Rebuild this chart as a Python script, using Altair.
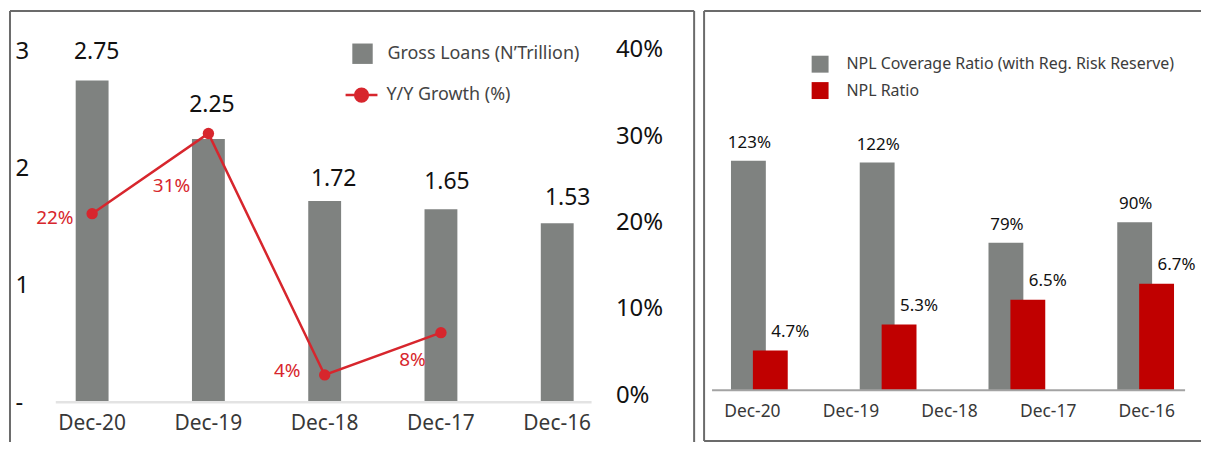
import altair as alt
import pandas as pd

# ---------------- data ----------------
periods = ["Dec-20", "Dec-19", "Dec-18", "Dec-17", "Dec-16"]
gross_loans = [2.75, 2.25, 1.72, 1.65, 1.53]
growth_periods = ["Dec-20", "Dec-19", "Dec-18", "Dec-17"]
growth_plotted = [21.4, 30.5, 3.1, 7.9]        # where the dots sit
growth_labels = ["22%", "31%", "4%", "8%"]     # what the labels say

npl_groups = ["Dec-20", "Dec-19", "Dec-18", "Dec-17"]
coverage_ratio = [123, 122, 79, 90]
npl_ratio = [4.7, 5.3, 6.5, 6.7]
npl_bar_plotted = [21.3, 35.2, 48.5, 57.1]     # red bar heights, in coverage units

LOANS_NAME = "Gross Loans (N\u2019Trillion)"
GROWTH_NAME = "Y/Y Growth (%)"
COV_NAME = "NPL Coverage Ratio (with Reg. Risk Reserve)"
NPL_NAME = "NPL Ratio"

# ---------------- styles ----------------
FONT = "Noto Sans"
GRAY = "#7f8280"
LINE_RED = "#d7262d"
NPL_RED = "#c00000"
FRAME = "#6b6b6b"
W_L, H_L = 687, 433
W_R, H_R = 499, 432

# per-label text offsets (style only)
loan_label_offsets = [(4.5, -22), (3.5, -27.5), (9, -15), (6, -20), (10.5, -18)]
growth_label_offsets = [(-18.7, 4.7), (-18.3, 53), (-24.3, -3.5), (-15.3, 28)]


def frame(sides, w, h):
    """Panel border drawn as rules (decoration in pixel space)."""
    one = pd.DataFrame({"z": [0]})
    parts = []
    for s in sides:
        if s == "left":
            enc = dict(x=alt.value(0), y=alt.value(0), y2=alt.value(h))
        elif s == "right":
            enc = dict(x=alt.value(w), y=alt.value(0), y2=alt.value(h))
        elif s == "top":
            enc = dict(x=alt.value(0), x2=alt.value(w), y=alt.value(0))
        else:
            enc = dict(x=alt.value(0), x2=alt.value(w), y=alt.value(h))
        parts.append(alt.Chart(one).mark_rule(color=FRAME, strokeWidth=2).encode(**enc))
    return parts


# ================= LEFT PANEL =================
loans_df = pd.DataFrame({
    "period": periods,
    "loans": gross_loans,
    "label": [f"{v:.2f}" for v in gross_loans],
    "series": LOANS_NAME,
})
growth_df = pd.DataFrame({
    "period": growth_periods,
    "growth": growth_plotted,
    "label": growth_labels,
    "series": GROWTH_NAME,
})

x_left = alt.X(
    "period:N", sort=periods,
    scale=alt.Scale(domain=periods, range=[24.1, 607.9], paddingInner=0, paddingOuter=0),
    axis=alt.Axis(orient="bottom", offset=-19, domain=False, ticks=False, tickSize=0,
                  labelPadding=0, labelAngle=0, labelFont=FONT, labelFontSize=21,
                  labelColor="#383838", labelBaseline="middle", title=None),
)
y_left = alt.Y(
    "loans:Q",
    scale=alt.Scale(domain=[0, 3], range=[393, 40.5], nice=False),
    axis=alt.Axis(orient="left", offset=-5, values=[0, 1, 2, 3],
                  labelExpr="datum.value == 0 ? '-' : format(datum.value, 'd')",
                  domain=False, ticks=False, tickSize=0, grid=False, labelPadding=0,
                  labelAlign="left", labelBaseline="middle", labelFont=FONT,
                  labelFontSize=24, labelColor="#111111", title=None),
)

base_loans = alt.Chart(loans_df)
bars = base_loans.mark_bar(size=33).encode(
    x=x_left, y=y_left,
    fill=alt.Fill("series:N", scale=alt.Scale(domain=[LOANS_NAME], range=[GRAY]),
                  legend=alt.Legend(orient="none", legendX=343.5, legendY=32.5, title=None,
                                    symbolType="square", symbolSize=420, symbolStrokeWidth=0,
                                    labelOffset=14.5, padding=0, labelLimit=0,
                                    labelFont=FONT, labelFontSize=18, labelColor="#444444")),
)
bar_texts = []
for p, (ddx, ddy) in zip(periods, loan_label_offsets):
    bar_texts.append(
        base_loans.transform_filter(alt.datum.period == p).mark_text(
            dx=ddx, dy=ddy, baseline="alphabetic", font=FONT, fontSize=23,
            color="#111111").encode(x=x_left, y=y_left, text="label:N"))

baseline_left = alt.Chart(pd.DataFrame({"z": [0]})).mark_rule(
    color="#e3e3e3", strokeWidth=2.5).encode(
    x=alt.value(46), x2=alt.value(584), y=alt.datum(0))

loans_layer = alt.layer(bars, *bar_texts, baseline_left)

y_growth = alt.Y("growth:Q", scale=alt.Scale(domain=[0, 40], range=[393, 39], nice=False),
                 axis=None)
base_growth = alt.Chart(growth_df)
line = base_growth.mark_line(strokeWidth=2.5).encode(
    x=x_left, y=y_growth,
    color=alt.Color("series:N", scale=alt.Scale(domain=[GROWTH_NAME], range=[LINE_RED]),
                    legend=alt.Legend(orient="none", legendX=335.5, legendY=67, title=None,
                                      symbolType="M-1,0L1,0M-0.4,0A0.4,0.4,0,1,1,0.4,0A0.4,0.4,0,1,1,-0.4,0",
                                      symbolSize=1024, symbolStrokeWidth=2.5,
                                      symbolFillColor=LINE_RED, symbolStrokeColor=LINE_RED,
                                      labelOffset=7.5, padding=0, labelLimit=0,
                                      labelFont=FONT, labelFontSize=18, labelColor="#444444")),
)
dots = base_growth.mark_circle(size=130, color=LINE_RED, opacity=1).encode(x=x_left, y=y_growth)

growth_texts = []
for p, (ddx, ddy) in zip(growth_periods, growth_label_offsets):
    growth_texts.append(
        base_growth.transform_filter(alt.datum.period == p).mark_text(
            align="right", baseline="middle", dx=ddx, dy=ddy, font=FONT, fontSize=19,
            color=LINE_RED).encode(x=x_left, y=y_growth, text="label:N"))

growth_layer = alt.layer(line, dots, *growth_texts)

right_axis = base_growth.mark_point(opacity=0).encode(
    x=x_left,
    y=alt.Y("growth:Q", scale=alt.Scale(domain=[0, 40], range=[386, 39], nice=False),
            axis=alt.Axis(orient="right", offset=-79, values=[0, 10, 20, 30, 40],
                          labelExpr="datum.value + '%'", domain=False, ticks=False,
                          tickSize=0, grid=False, labelPadding=0, labelAlign="left",
                          labelBaseline="middle", labelFont=FONT, labelFontSize=24,
                          labelColor="#111111", title=None)),
)

left = alt.layer(
    alt.layer(*frame(["left", "top", "right"], W_L, H_L)),
    loans_layer, growth_layer, right_axis,
).resolve_scale(y="independent").properties(width=W_L, height=H_L)

# ================= RIGHT PANEL =================
cov_df = pd.DataFrame({
    "group": npl_groups, "value": coverage_ratio,
    "label": [f"{v}%" for v in coverage_ratio], "series": COV_NAME,
})
npl_df = pd.DataFrame({
    "group": npl_groups, "value": npl_bar_plotted,
    "label": [f"{v:.1f}%" for v in npl_ratio], "series": NPL_NAME,
})

x_r = alt.X("group:N", sort=npl_groups,
            scale=alt.Scale(domain=npl_groups, range=[-9.15, 508.05], paddingInner=0, paddingOuter=0),
            axis=None)
y_r = alt.Y("value:Q", scale=alt.Scale(domain=[0, 100], range=[381, 193.5], nice=False), axis=None)
fill_r = alt.Fill("series:N", scale=alt.Scale(domain=[COV_NAME, NPL_NAME], range=[GRAY, NPL_RED]),
                  legend=alt.Legend(orient="none", legendX=108, legendY=45, title=None,
                                    symbolType="square", symbolSize=289, symbolStrokeWidth=0,
                                    labelOffset=18, rowPadding=9.5, padding=0, labelLimit=0,
                                    labelFont=FONT, labelFontSize=16, labelColor="#3c3c3c"))

cov_bars = alt.Chart(cov_df).mark_bar(size=35, xOffset=-11).encode(x=x_r, y=y_r, fill=fill_r)
npl_bars = alt.Chart(npl_df).mark_bar(size=35, xOffset=11).encode(x=x_r, y=y_r, fill=fill_r)
cov_text = alt.Chart(cov_df).mark_text(xOffset=-11, dx=1, dy=-13, baseline="alphabetic",
                                       font=FONT, fontSize=17, color="#111111").encode(
    x=x_r, y=y_r, text="label:N")
npl_text = alt.Chart(npl_df).mark_text(xOffset=11, dx=20, dy=-14, baseline="alphabetic",
                                       font=FONT, fontSize=17, color="#111111").encode(
    x=x_r, y=y_r, text="label:N")
baseline_right = alt.Chart(pd.DataFrame({"z": [0]})).mark_rule(
    color="#a3a3a3", strokeWidth=2).encode(
    x=alt.value(8), x2=alt.value(483), y=alt.datum(0))

bars_right = alt.layer(cov_bars, npl_bars, cov_text, npl_text, baseline_right)

xlabels = alt.Chart(pd.DataFrame({"period": periods})).mark_point(opacity=0).encode(
    x=alt.X("period:N", sort=periods,
            scale=alt.Scale(type="point", domain=periods, range=[48, 444], padding=0),
            axis=alt.Axis(orient="bottom", offset=-30, domain=False, ticks=False, tickSize=0,
                          labelPadding=0, labelAngle=0, labelFont=FONT, labelFontSize=17.5,
                          labelColor="#383838", labelBaseline="middle", title=None)),
    y=alt.value(10),
)

right = alt.layer(
    alt.layer(*frame(["left", "top", "bottom"], W_R, H_R)),
    bars_right, xlabels,
).resolve_scale(x="independent").properties(width=W_R, height=H_R)

chart = alt.hconcat(left, right, spacing=6).resolve_scale(
    fill="independent", color="independent").resolve_legend(
    fill="independent", color="independent").configure_view(
    stroke="transparent").properties(padding=0)

chart.save("out.html", embed_options={"renderer": "svg", "actions": False})
